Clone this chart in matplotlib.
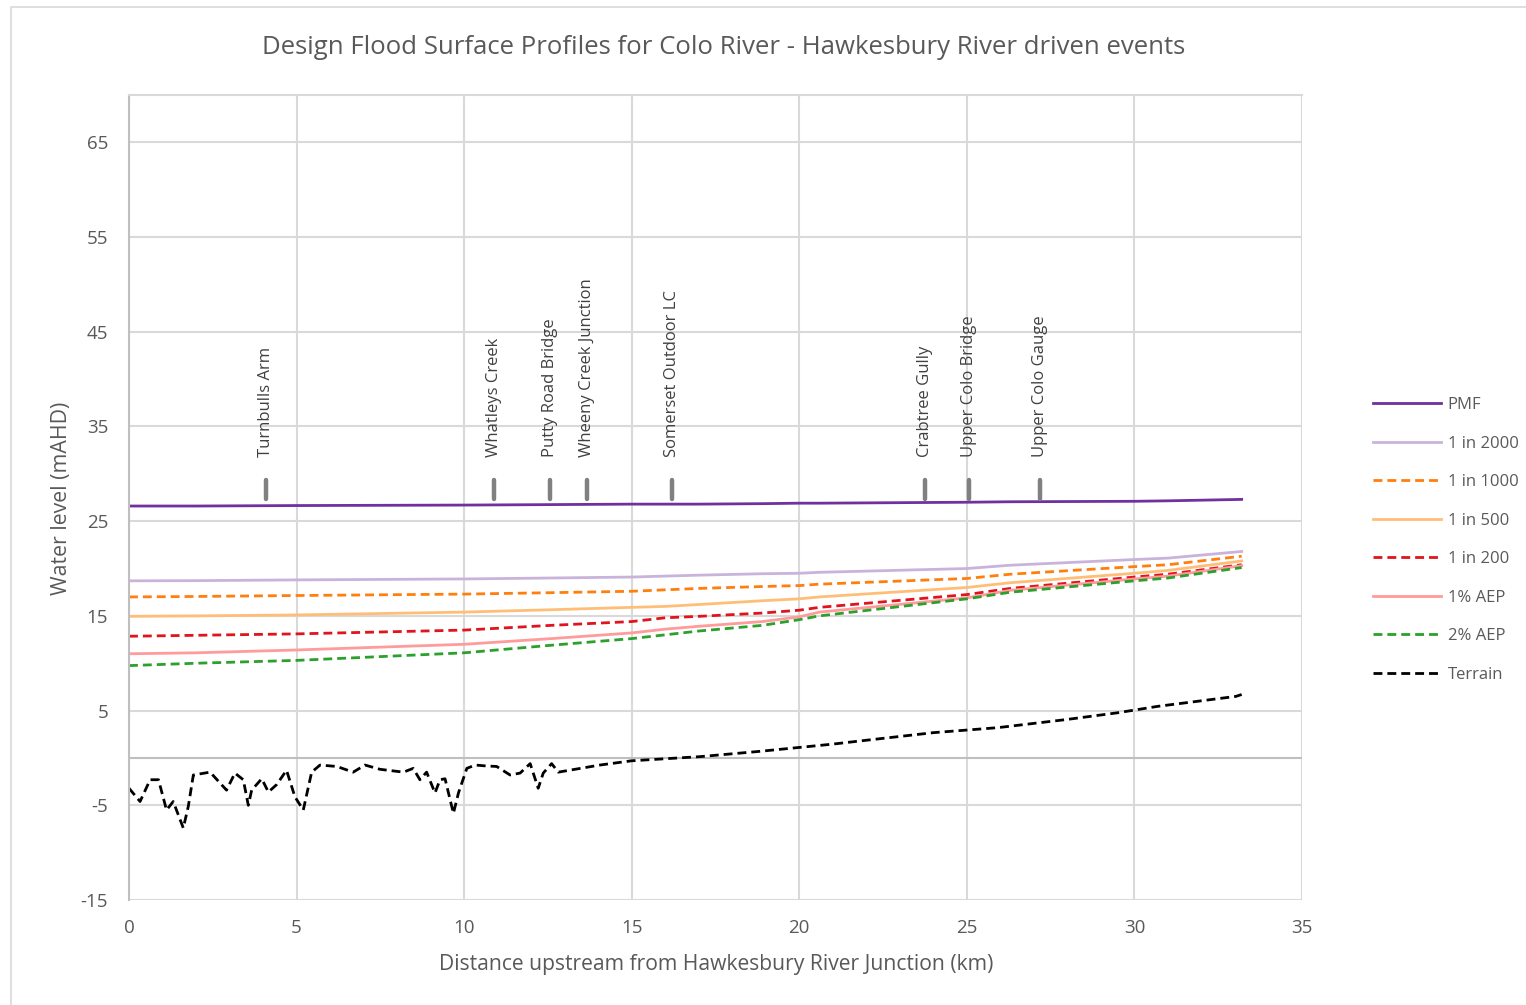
import matplotlib
matplotlib.use("Agg")
import matplotlib.pyplot as plt
from matplotlib.patches import Rectangle

# ---------------- data ----------------
chainage = [0, 2, 5, 10, 12.6, 15, 16, 17, 18.9, 20, 20.6, 25, 26.3, 30, 31, 33.2]
pmf      = [26.6, 26.6, 26.65, 26.7, 26.75, 26.8, 26.8, 26.8, 26.85, 26.9, 26.9, 27.0, 27.05, 27.1, 27.15, 27.3]
aep2000  = [18.7, 18.72, 18.8, 18.9, 19.0, 19.1, 19.2, 19.3, 19.45, 19.5, 19.6, 20.0, 20.35, 20.95, 21.1, 21.8]
aep1000  = [17.0, 17.05, 17.15, 17.3, 17.45, 17.6, 17.75, 17.9, 18.1, 18.2, 18.35, 18.95, 19.4, 20.2, 20.4, 21.3]
aep500   = [14.95, 15.0, 15.1, 15.4, 15.65, 15.9, 16.0, 16.2, 16.6, 16.8, 17.0, 18.0, 18.5, 19.5, 19.8, 20.8]
aep200   = [12.85, 12.95, 13.1, 13.5, 14.0, 14.4, 14.8, 14.95, 15.3, 15.6, 15.9, 17.25, 17.9, 19.1, 19.4, 20.4]
aep1pct  = [11.0, 11.1, 11.4, 12.0, 12.6, 13.2, 13.6, 13.9, 14.4, 14.9, 15.4, 16.9, 17.7, 18.9, 19.2, 20.3]
aep2pct  = [9.75, 10.0, 10.3, 11.1, 11.9, 12.6, 13.0, 13.4, 14.0, 14.6, 15.0, 16.8, 17.5, 18.7, 19.0, 20.1]

terrain_x = [0, 0.33, 0.63, 0.88, 1.12, 1.32, 1.62, 1.77, 1.92, 2.42, 2.91, 3.16, 3.41, 3.56, 3.66,
             3.96, 4.16, 4.41, 4.70, 4.95, 5.20, 5.45, 5.70, 6.20, 6.69, 7.04, 7.49, 8.19, 8.48, 8.68,
             8.88, 9.13, 9.28, 9.43, 9.68, 9.83, 10.08, 10.33, 10.67, 10.97, 11.37, 11.67, 11.97, 12.21,
             12.36, 12.61, 12.81, 14.05, 15.0, 17.05, 18.83, 21.0, 21.83, 24.0, 25.93, 27.98, 29.48,
             30.7, 33.03, 33.2]
terrain_y = [-3.2, -4.6, -2.3, -2.3, -5.5, -4.6, -7.4, -5.1, -1.8, -1.5, -3.4, -1.6, -2.3, -5.0, -3.4,
             -2.2, -3.6, -2.8, -1.3, -4.1, -5.5, -1.5, -0.75, -0.9, -1.5, -0.75, -1.2, -1.5, -1.1, -2.3,
             -1.5, -3.7, -2.3, -2.2, -5.85, -3.7, -1.1, -0.75, -0.85, -0.9, -1.8, -1.6, -0.6, -3.2,
             -1.6, -0.6, -1.5, -0.75, -0.3, 0.14, 0.7, 1.46, 1.8, 2.67, 3.2, 4.06, 4.76,
             5.45, 6.5, 6.7]

locations = ["Turnbulls Arm", "Whatleys Creek", "Putty Road Bridge", "Wheeny Creek Junction",
             "Somerset Outdoor LC", "Crabtree Gully", "Upper Colo Bridge", "Upper Colo Gauge"]
location_km = [4.09, 10.89, 12.56, 13.66, 16.19, 23.75, 25.06, 27.18]

x_ticks = [0, 5, 10, 15, 20, 25, 30, 35]
y_ticks = [-15, -5, 5, 15, 25, 35, 45, 55, 65]

# ---------------- style ----------------
FONT = ["Open Sans", "DejaVu Sans"]
plt.rcParams["font.family"] = FONT
plt.rcParams["axes.unicode_minus"] = False
TXT = "#595959"
GRID = "#d9d9d9"

fig = plt.figure(figsize=(15.26, 10.05), dpi=100)
fig.patches.append(Rectangle((11 / 1526, -0.01), 1.02, 1 - 7 / 1005 + 0.01, transform=fig.transFigure,
                             fill=False, edgecolor="#d9d9d9", lw=1.2))
ax = fig.add_axes([129 / 1526, 1 - 900 / 1005, (1302 - 129) / 1526, (900 - 95) / 1005])

ax.set_xlim(0, 35)
ax.set_ylim(-15, 70)
ax.set_xticks(x_ticks)
ax.set_yticks(y_ticks)
ax.tick_params(length=0, labelsize=13.5, labelcolor=TXT)
ax.tick_params(axis="x", pad=14)
ax.tick_params(axis="y", pad=15)
for lbl in ax.get_xticklabels() + ax.get_yticklabels():
    lbl.set_fontfamily(FONT)
ax.grid(True, color=GRID, lw=1.5)
ax.set_axisbelow(True)
for s in ["right", "bottom"]:
    ax.spines[s].set_visible(False)
ax.spines["top"].set_color(GRID)
ax.spines["top"].set_linewidth(1.5)
ax.spines["left"].set_color("#bfbfbf")
ax.spines["left"].set_linewidth(1.5)
ax.axhline(0, color="#bfbfbf", lw=1.5, zorder=1)

lw = 2.0
dash = (3.2, 1.8)
ax.plot(chainage, pmf, color="#7030A0", lw=lw, label="PMF")
ax.plot(chainage, aep2000, color="#C9B3DA", lw=lw, label="1 in 2000")
ax.plot(chainage, aep1000, color="#FF7F0E", lw=lw, dashes=dash, label="1 in 1000")
ax.plot(chainage, aep500, color="#FFBE78", lw=lw, label="1 in 500")
ax.plot(chainage, aep200, color="#E0141E", lw=lw, dashes=dash, label="1 in 200")
ax.plot(chainage, aep1pct, color="#FF9B9B", lw=lw, label="1% AEP")
ax.plot(chainage, aep2pct, color="#2CA02C", lw=lw, dashes=dash, label="2% AEP")
ax.plot(terrain_x, terrain_y, color="black", lw=lw, dashes=dash, label="Terrain")

# location markers and labels
for name, km in zip(locations, location_km):
    ax.plot([km, km], [27.3, 29.4], color="#808080", lw=3.2, solid_capstyle="round")
    ax.text(km, 31.8, name, rotation=90, ha="center", va="bottom", fontsize=12,
            color="#404040", family=FONT)

ax.set_title("Design Flood Surface Profiles for Colo River - Hawkesbury River driven events",
             fontsize=18.5, color=TXT, family=FONT, pad=0, x=(724 - 129) / 1173, y=1 + (95 - 48) / 805,
             va="center")
fig.text(716 / 1526, 1 - 964 / 1005, "Distance upstream from Hawkesbury River Junction (km)",
         ha="center", va="center", fontsize=15.2, color=TXT, family=FONT)
fig.text(61 / 1526, 1 - 498 / 1005, "Water level (mAHD)", rotation=90,
         ha="center", va="center", fontsize=15.3, color=TXT, family=FONT)

leg = fig.legend(loc="upper left", bbox_to_anchor=(1373 / 1526, 1 - 397 / 1005), frameon=False,
                 fontsize=12, handlelength=4.07, handletextpad=0.42, labelspacing=1.35,
                 borderpad=0, borderaxespad=0)
for t in leg.get_texts():
    t.set_color(TXT)

fig.savefig("out.png", dpi=100)
